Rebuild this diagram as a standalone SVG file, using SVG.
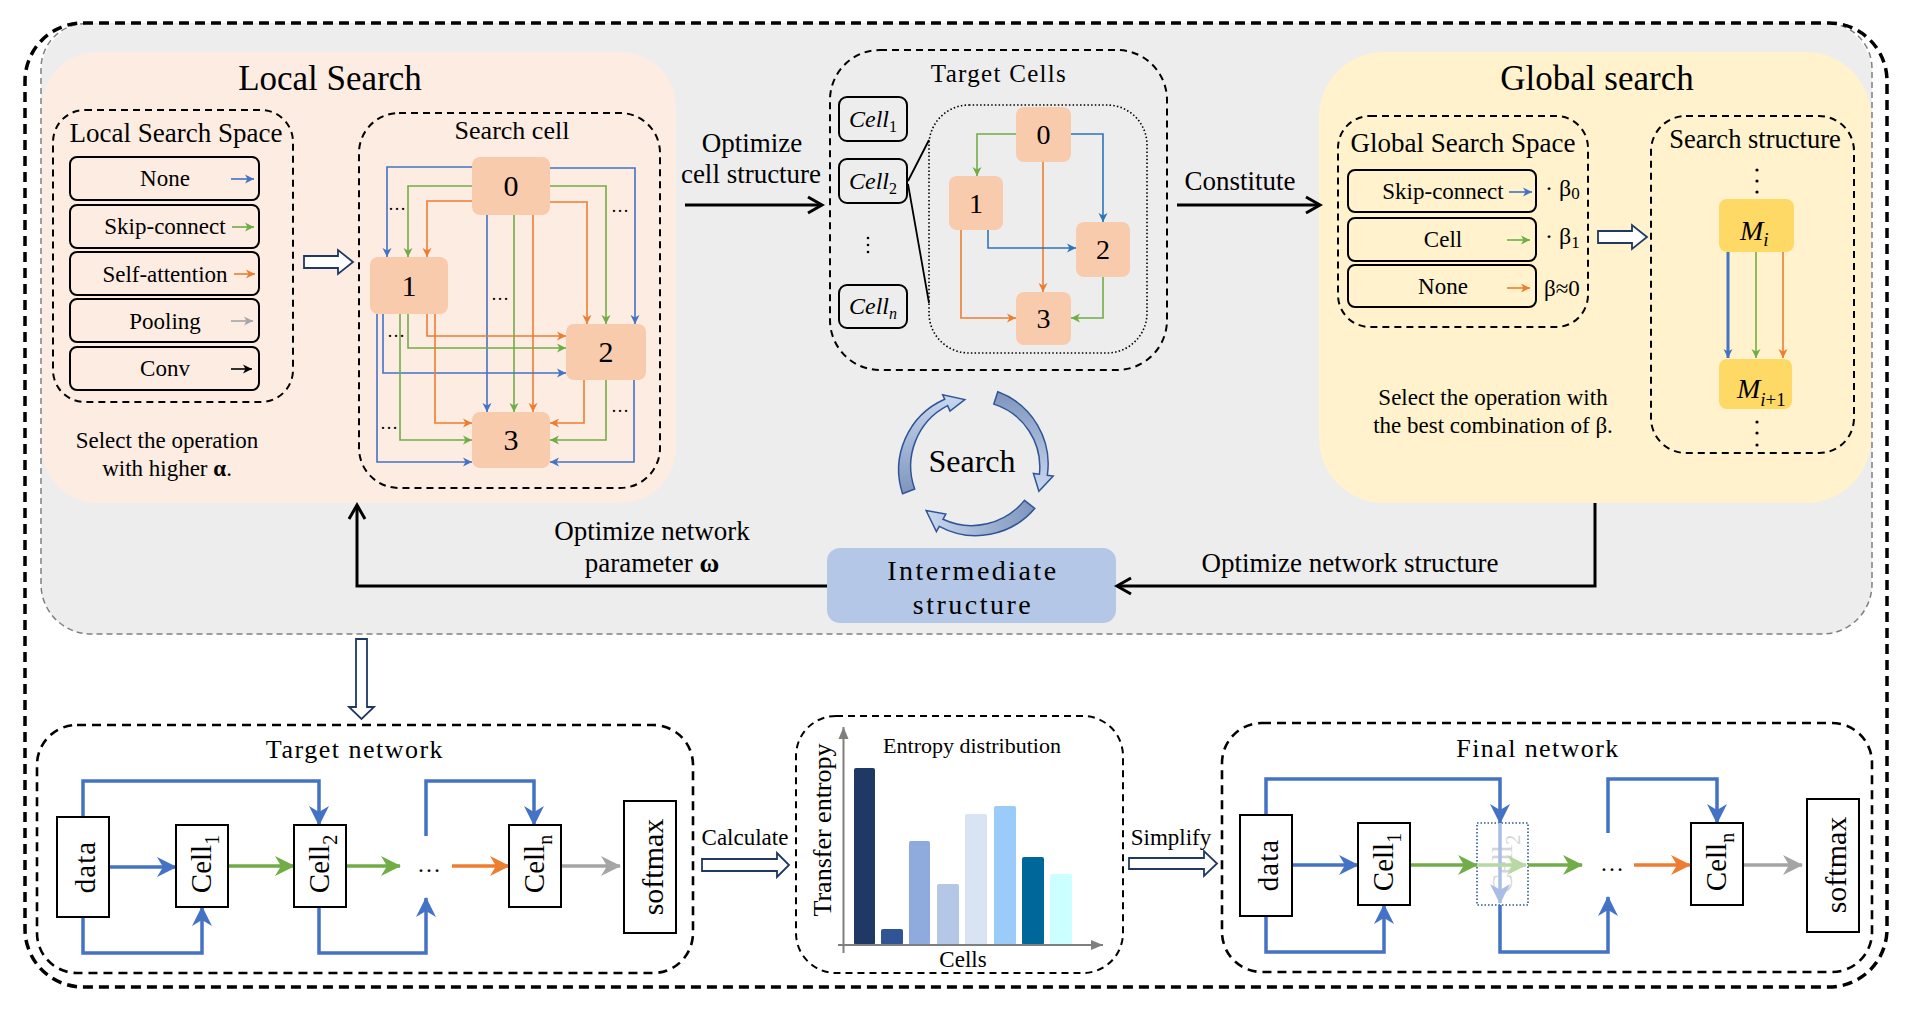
<svg xmlns="http://www.w3.org/2000/svg" width="1905" height="1009" viewBox="0 0 1905 1009">
<defs>
<style>
text{font-family:"Liberation Serif","Times New Roman",serif;fill:#000}
.dash{fill:none;stroke:#000;stroke-width:2;stroke-dasharray:7 5}
.ndash{fill:none;stroke:#000;stroke-width:2.6;stroke-dasharray:9 6}
.opt{fill:none;stroke:#000;stroke-width:2}
.node{fill:#f8cbad}
.ynode{fill:#ffd966}
.e{fill:none;stroke-width:1.6}
.b{stroke:#4472c4}
.g{stroke:#70ad47}
.o{stroke:#ed7d31}
.gr{stroke:#a5a5a5}
.k{stroke:#000}
.tb{stroke:#2e75b6}
.big{fill:none;stroke-width:3.5}
.blk{fill:none;stroke:#000;stroke-width:3}
.hol{fill:#fff;stroke:#1f3864;stroke-width:1.8}
.box{fill:#fff;stroke:#000;stroke-width:2}
.cyc{stroke:#2f5597;stroke-width:1.5}
</style>
<marker id="sb" markerUnits="userSpaceOnUse" markerWidth="10" markerHeight="9" refX="9" refY="4.5" orient="auto" overflow="visible"><path d="M0,0 L9,4.5 L0,9 L2.5,4.5 z" fill="#4472c4"/></marker>
<marker id="sg" markerUnits="userSpaceOnUse" markerWidth="10" markerHeight="9" refX="9" refY="4.5" orient="auto" overflow="visible"><path d="M0,0 L9,4.5 L0,9 L2.5,4.5 z" fill="#70ad47"/></marker>
<marker id="so" markerUnits="userSpaceOnUse" markerWidth="10" markerHeight="9" refX="9" refY="4.5" orient="auto" overflow="visible"><path d="M0,0 L9,4.5 L0,9 L2.5,4.5 z" fill="#ed7d31"/></marker>
<marker id="sgr" markerUnits="userSpaceOnUse" markerWidth="10" markerHeight="9" refX="9" refY="4.5" orient="auto" overflow="visible"><path d="M0,0 L9,4.5 L0,9 L2.5,4.5 z" fill="#a5a5a5"/></marker>
<marker id="sk" markerUnits="userSpaceOnUse" markerWidth="10" markerHeight="9" refX="9" refY="4.5" orient="auto" overflow="visible"><path d="M0,0 L9,4.5 L0,9 L2.5,4.5 z" fill="#000"/></marker>
<marker id="stb" markerUnits="userSpaceOnUse" markerWidth="10" markerHeight="9" refX="9" refY="4.5" orient="auto" overflow="visible"><path d="M0,0 L9,4.5 L0,9 L2.5,4.5 z" fill="#2e75b6"/></marker>
<marker id="lb" markerUnits="userSpaceOnUse" markerWidth="20" markerHeight="20" refX="19" refY="10" orient="auto" overflow="visible"><path d="M0,0 L20,10 L0,20 L6,10 z" fill="#4472c4"/></marker>
<marker id="lg" markerUnits="userSpaceOnUse" markerWidth="20" markerHeight="20" refX="19" refY="10" orient="auto" overflow="visible"><path d="M0,0 L20,10 L0,20 L6,10 z" fill="#70ad47"/></marker>
<marker id="lo" markerUnits="userSpaceOnUse" markerWidth="20" markerHeight="20" refX="19" refY="10" orient="auto" overflow="visible"><path d="M0,0 L20,10 L0,20 L6,10 z" fill="#ed7d31"/></marker>
<marker id="lgr" markerUnits="userSpaceOnUse" markerWidth="20" markerHeight="20" refX="19" refY="10" orient="auto" overflow="visible"><path d="M0,0 L20,10 L0,20 L6,10 z" fill="#a5a5a5"/></marker>
<marker id="lfb" markerUnits="userSpaceOnUse" markerWidth="20" markerHeight="20" refX="19" refY="10" orient="auto" overflow="visible"><path d="M0,0 L20,10 L0,20 L6,10 z" fill="#a9bde6"/></marker>
<marker id="lfg" markerUnits="userSpaceOnUse" markerWidth="20" markerHeight="20" refX="19" refY="10" orient="auto" overflow="visible"><path d="M0,0 L20,10 L0,20 L6,10 z" fill="#b7d9a3"/></marker>
<marker id="ka" markerUnits="userSpaceOnUse" markerWidth="18" markerHeight="20" refX="15" refY="9" orient="auto" overflow="visible"><path d="M1,1 L15,9 L1,17" fill="none" stroke="#000" stroke-width="3"/></marker>
<marker id="ax" markerUnits="userSpaceOnUse" markerWidth="12" markerHeight="10" refX="12" refY="5" orient="auto" overflow="visible"><path d="M0,0 L12,5 L0,10 z" fill="#7f7f7f"/></marker>
<linearGradient id="g1" x1="0" y1="1" x2="0" y2="0"><stop offset="0" stop-color="#7f95bd"/><stop offset="1" stop-color="#c9d8f0"/></linearGradient>
<linearGradient id="g2" x1="0" y1="0" x2="0" y2="1"><stop offset="0" stop-color="#7f95bd"/><stop offset="1" stop-color="#c9d8f0"/></linearGradient>
<linearGradient id="g3" x1="1" y1="0" x2="0" y2="0"><stop offset="0" stop-color="#7f95bd"/><stop offset="1" stop-color="#c9d8f0"/></linearGradient>
</defs>

<g id="background">
<rect x="0" y="0" width="1905" height="1009" fill="#fff"/>
<rect x="41" y="23" width="1831" height="611" rx="50" fill="#ededed"/>
<path d="M86,23.5 A45,45 0 0 0 41,68.5 V584 A50,50 0 0 0 91,634 H1822 A50,50 0 0 0 1872,584 V68.5 A45,45 0 0 0 1827,23.5" fill="none" stroke="#808080" stroke-width="1.5" stroke-dasharray="6 4"/>
<rect x="25" y="23" width="1862" height="964" rx="58" fill="none" stroke="#000" stroke-width="3.5" stroke-dasharray="10 6"/>
</g>

<g id="local-search">
<rect x="42" y="52" width="634" height="451" rx="55" fill="#fdece2"/>
<text x="330" y="90" text-anchor="middle" font-size="35">Local Search</text>
<text x="167" y="448" text-anchor="middle" font-size="23">Select the operation</text>
<text x="167" y="476" text-anchor="middle" font-size="23">with higher <tspan font-weight="bold">α</tspan>.</text>
</g>

<g id="local-search-space">
<rect x="53" y="110" width="240" height="292" rx="32" class="dash"/>
<text x="176" y="142" text-anchor="middle" font-size="27">Local Search Space</text>
<rect x="70" y="157" width="189" height="43" rx="7" class="opt"/>
<text x="165" y="186" text-anchor="middle" font-size="23">None</text>
<rect x="70" y="205" width="189" height="43" rx="7" class="opt"/>
<text x="165" y="234" text-anchor="middle" font-size="23">Skip-connect</text>
<rect x="70" y="252" width="189" height="43" rx="7" class="opt"/>
<text x="165" y="282" text-anchor="middle" font-size="23">Self-attention</text>
<rect x="70" y="299" width="189" height="43" rx="7" class="opt"/>
<text x="165" y="329" text-anchor="middle" font-size="23">Pooling</text>
<rect x="70" y="347" width="189" height="43" rx="7" class="opt"/>
<text x="165" y="376" text-anchor="middle" font-size="23">Conv</text>
<path d="M231,179 H254" class="e b" marker-end="url(#sb)"/>
<path d="M232,227 H254" class="e g" marker-end="url(#sg)"/>
<path d="M234,274 H255" class="e o" marker-end="url(#so)"/>
<path d="M231,321 H253" class="e gr" marker-end="url(#sgr)"/>
<path d="M231,369 H252" class="e k" marker-end="url(#sk)"/>
</g>

<g id="arrow-space-to-cell">
<path d="M304,256 H338 V250 L353,262 L338,274 V268 H304 Z" class="hol"/>
</g>

<g id="search-cell">
<rect x="359" y="113" width="301" height="375" rx="40" class="dash"/>
<text x="512" y="139" text-anchor="middle" font-size="26">Search cell</text>
</g>
<g id="sc-edges">
<path d="M472,167 H387 V257" class="e b" marker-end="url(#sb)"/>
<path d="M472,186 H408 V257" class="e g" marker-end="url(#sg)"/>
<path d="M472,201 H427 V257" class="e o" marker-end="url(#so)"/>
<path d="M550,168 H635 V324" class="e b" marker-end="url(#sb)"/>
<path d="M550,186 H606 V324" class="e g" marker-end="url(#sg)"/>
<path d="M550,202 H587 V324" class="e o" marker-end="url(#so)"/>
<path d="M487,215 V412" class="e b" marker-end="url(#sb)"/>
<path d="M514,215 V412" class="e g" marker-end="url(#sg)"/>
<path d="M533,215 V412" class="e o" marker-end="url(#so)"/>
<path d="M427,314 V336 H566" class="e o" marker-end="url(#so)"/>
<path d="M408,314 V348 H566" class="e g" marker-end="url(#sg)"/>
<path d="M383,314 V373 H566" class="e b" marker-end="url(#sb)"/>
<path d="M377,314 V462 H472" class="e b" marker-end="url(#sb)"/>
<path d="M400,314 V440 H472" class="e g" marker-end="url(#sg)"/>
<path d="M435,314 V423 H472" class="e o" marker-end="url(#so)"/>
<path d="M584,380 V423 H550" class="e o" marker-end="url(#so)"/>
<path d="M606,380 V440 H550" class="e g" marker-end="url(#sg)"/>
<path d="M634,380 V462 H550" class="e b" marker-end="url(#sb)"/>
<text x="397" y="210" text-anchor="middle" font-size="18">…</text>
<text x="620" y="212" text-anchor="middle" font-size="18">…</text>
<text x="500" y="300" text-anchor="middle" font-size="18">…</text>
<text x="396" y="337" text-anchor="middle" font-size="18">…</text>
<text x="389" y="429" text-anchor="middle" font-size="18">…</text>
<text x="620" y="412" text-anchor="middle" font-size="18">…</text>
</g>
<g id="sc-node-0"><rect x="472" y="157" width="78" height="58" rx="8" class="node"/><text x="511" y="196" text-anchor="middle" font-size="30">0</text></g>
<g id="sc-node-1"><rect x="370" y="257" width="78" height="57" rx="8" class="node"/><text x="409" y="296" text-anchor="middle" font-size="30">1</text></g>
<g id="sc-node-2"><rect x="566" y="324" width="80" height="56" rx="8" class="node"/><text x="606" y="362" text-anchor="middle" font-size="30">2</text></g>
<g id="sc-node-3"><rect x="472" y="412" width="78" height="56" rx="8" class="node"/><text x="511" y="450" text-anchor="middle" font-size="30">3</text></g>

<g id="label-optimize-cell">
<text x="752" y="152" text-anchor="middle" font-size="27">Optimize</text>
<text x="751" y="183" text-anchor="middle" font-size="27">cell structure</text>
</g>

<g id="target-cells">
<rect x="830" y="50" width="337" height="320" rx="50" class="dash"/>
<text x="999" y="82" text-anchor="middle" font-size="25" letter-spacing="1.3">Target Cells</text>
<rect x="839" y="97" width="68" height="44" rx="8" class="opt"/>
<text x="873" y="127" text-anchor="middle" font-size="24" font-style="italic">Cell<tspan font-style="normal" font-size="16" dy="5">1</tspan></text>
<rect x="839" y="159" width="68" height="44" rx="8" class="opt"/>
<text x="873" y="189" text-anchor="middle" font-size="24" font-style="italic">Cell<tspan font-style="normal" font-size="16" dy="5">2</tspan></text>
<rect x="839" y="285" width="68" height="43" rx="8" class="opt"/>
<text x="873" y="314" text-anchor="middle" font-size="24" font-style="italic">Cell<tspan font-size="16" dy="5">n</tspan></text>
<circle cx="868" cy="238" r="1.3"/><circle cx="868" cy="245" r="1.3"/><circle cx="868" cy="252" r="1.3"/>
<path d="M908,181 L929,140 M908,184 L929,303" fill="none" stroke="#000" stroke-width="1.8"/>
<rect x="929" y="105" width="218" height="248" rx="40" fill="none" stroke="#000" stroke-width="1.6" stroke-dasharray="1.5 2.2"/>
</g>
<g id="tc-edges">
<path d="M1016,134 H977 V176" class="e g" marker-end="url(#sg)"/>
<path d="M1071,134 H1103 V222" class="e tb" marker-end="url(#stb)"/>
<path d="M1043,162 V292" class="e o" marker-end="url(#so)"/>
<path d="M988,230 V248 H1076" class="e tb" marker-end="url(#stb)"/>
<path d="M961,230 V318 H1016" class="e o" marker-end="url(#so)"/>
<path d="M1103,277 V318 H1071" class="e g" marker-end="url(#sg)"/>
</g>
<g id="tc-node-0"><rect x="1016" y="107" width="55" height="55" rx="8" class="node"/><text x="1043.5" y="144" text-anchor="middle" font-size="28">0</text></g>
<g id="tc-node-1"><rect x="949" y="176" width="54" height="54" rx="8" class="node"/><text x="976" y="213" text-anchor="middle" font-size="28">1</text></g>
<g id="tc-node-2"><rect x="1076" y="222" width="54" height="55" rx="8" class="node"/><text x="1103" y="259" text-anchor="middle" font-size="28">2</text></g>
<g id="tc-node-3"><rect x="1016" y="292" width="55" height="53" rx="8" class="node"/><text x="1043.5" y="328" text-anchor="middle" font-size="28">3</text></g>

<g id="label-constitute">
<text x="1240" y="190" text-anchor="middle" font-size="27">Constitute</text>
</g>

<g id="global-search">
<rect x="1319" y="52" width="552" height="451" rx="65" fill="#fff2cc"/>
<text x="1597" y="90" text-anchor="middle" font-size="35">Global search</text>
<text x="1493" y="405" text-anchor="middle" font-size="23">Select the operation with</text>
<text x="1493" y="433" text-anchor="middle" font-size="23">the best combination of β.</text>
</g>

<g id="global-search-space">
<rect x="1338" y="116" width="250" height="211" rx="32" class="dash"/>
<text x="1463" y="152" text-anchor="middle" font-size="27">Global Search Space</text>
<rect x="1348" y="170" width="188" height="42" rx="7" class="opt"/>
<text x="1443" y="199" text-anchor="middle" font-size="23">Skip-connect</text>
<rect x="1348" y="218" width="188" height="43" rx="7" class="opt"/>
<text x="1443" y="247" text-anchor="middle" font-size="23">Cell</text>
<rect x="1348" y="265" width="188" height="42" rx="7" class="opt"/>
<text x="1443" y="294" text-anchor="middle" font-size="23">None</text>
<path d="M1509,192 H1532" class="e b" marker-end="url(#sb)"/>
<path d="M1507,240 H1530" class="e g" marker-end="url(#sg)"/>
<path d="M1507,288 H1530" class="e o" marker-end="url(#so)"/>
<text x="1545" y="196" font-size="24">· β<tspan font-size="17" dy="3">0</tspan></text>
<text x="1545" y="244" font-size="24">· β<tspan font-size="17" dy="4">1</tspan></text>
<text x="1544" y="296" font-size="23">β≈0</text>
</g>

<g id="arrow-space-to-structure">
<path d="M1598,231 H1632 V225 L1647,237 L1632,249 V243 H1598 Z" class="hol"/>
</g>

<g id="search-structure">
<rect x="1651" y="116" width="203" height="337" rx="35" class="dash"/>
<text x="1755" y="148" text-anchor="middle" font-size="26.5">Search structure</text>
<circle cx="1757" cy="170" r="1.6"/><circle cx="1757" cy="181" r="1.6"/><circle cx="1757" cy="192" r="1.6"/>
<circle cx="1757" cy="422" r="1.6"/><circle cx="1757" cy="433" r="1.6"/><circle cx="1757" cy="445" r="1.6"/>
</g>
<g id="ss-edges">
<path d="M1728,252 V358" fill="none" stroke="#4472c4" stroke-width="3" marker-end="url(#sb)"/>
<path d="M1756,252 V358" class="e g" marker-end="url(#sg)"/>
<path d="M1783,252 V358" class="e o" marker-end="url(#so)"/>
</g>
<g id="node-mi"><rect x="1719" y="199" width="75" height="53" rx="8" class="ynode"/><text x="1740" y="240" font-size="28" font-style="italic">M<tspan font-size="19" dy="6">i</tspan></text></g>
<g id="node-mi1"><rect x="1719" y="359" width="73" height="50" rx="8" class="ynode"/><text x="1737" y="398" font-size="28" font-style="italic">M<tspan font-size="19" dy="8">i</tspan><tspan font-size="19" font-style="normal">+1</tspan></text></g>

<g id="search-cycle">
<path d="M902.6,493.8 A77,77 0 0 1 944.7,399.2 L942.7,394.7 L964.8,399.6 L950,411.1 L947.6,405.6 A68,68 0 0 0 914.7,489 Z" fill="url(#g1)" class="cyc"/>
<path d="M997.8,391.8 A77,77 0 0 1 1047.3,475.3 L1053.2,476.1 L1038.9,491.2 L1033.4,473.4 L1039.4,474.2 A66,66 0 0 0 993.8,404.1 Z" fill="url(#g2)" class="cyc"/>
<path d="M1034.7,508.4 A77,77 0 0 1 939.3,526.3 L936.4,531.6 L926.1,510.6 L945.8,514 L943,519.3 A68,68 0 0 0 1024.4,500.4 Z" fill="url(#g3)" class="cyc"/>
<text x="972" y="472" text-anchor="middle" font-size="32">Search</text>
</g>

<g id="intermediate">
<rect x="827" y="548" width="289" height="75" rx="13" fill="#b4c7e7"/>
<text x="973" y="580" text-anchor="middle" font-size="28" letter-spacing="2.5">Intermediate</text>
<text x="973" y="614" text-anchor="middle" font-size="28" letter-spacing="2.5">structure</text>
</g>

<g id="loop-labels">
<text x="652" y="540" text-anchor="middle" font-size="27">Optimize network</text>
<text x="652" y="572" text-anchor="middle" font-size="27">parameter <tspan font-weight="bold">ω</tspan></text>
<text x="1350" y="572" text-anchor="middle" font-size="27">Optimize network structure</text>
</g>

<g id="connectors">
<path d="M685,205 H822" class="blk" marker-end="url(#ka)"/>
<path d="M1177,205 H1320" class="blk" marker-end="url(#ka)"/>
<path d="M827,586 H357 V505" class="blk" marker-end="url(#ka)"/>
<path d="M1595,503 V586 H1117" class="blk" marker-end="url(#ka)"/>
<path d="M356,639 H367 V707 H374 L361.5,719 L349,707 H356 Z" class="hol"/>
<path d="M702,859 H777 V853 L789,865 L777,877 V871 H702 Z" class="hol"/>
<path d="M1129,858 H1204 V851 L1217,863.5 L1204,876 V869 H1129 Z" class="hol"/>
</g>

<g id="target-network">
<rect x="37" y="725" width="656" height="248" rx="40" class="ndash"/>
<text x="355" y="758" text-anchor="middle" font-size="26" letter-spacing="1.5">Target network</text>
</g>
<g id="tn-edges">
<path d="M109,867 H176" class="big b" marker-end="url(#lb)"/>
<path d="M83,817 V781 H319 V825" class="big b" marker-end="url(#lb)"/>
<path d="M83,917 V953 H202 V907" class="big b" marker-end="url(#lb)"/>
<path d="M319,907 V953 H426 V898" class="big b" marker-end="url(#lb)"/>
<path d="M426,836 V781 H534 V825" class="big b" marker-end="url(#lb)"/>
<path d="M228,866 H294" class="big g" marker-end="url(#lg)"/>
<path d="M346,866 H400" class="big g" marker-end="url(#lg)"/>
<path d="M452,866 H509" class="big o" marker-end="url(#lo)"/>
<path d="M561,866 H620" class="big gr" marker-end="url(#lgr)"/>
<text x="429" y="872" text-anchor="middle" font-size="24">…</text>
</g>
<g id="tn-data"><rect x="57" y="817" width="52" height="100" class="box"/><text transform="translate(95,867) rotate(-90)" text-anchor="middle" font-size="29" letter-spacing="1">data</text></g>
<g id="tn-cell1"><rect x="176" y="825" width="52" height="82" class="box"/><text transform="translate(211,864) rotate(-90)" text-anchor="middle" font-size="29">Cell<tspan font-size="20" dy="8">1</tspan></text></g>
<g id="tn-cell2"><rect x="294" y="825" width="52" height="82" class="box"/><text transform="translate(329,864) rotate(-90)" text-anchor="middle" font-size="29">Cell<tspan font-size="20" dy="8">2</tspan></text></g>
<g id="tn-celln"><rect x="509" y="825" width="52" height="82" class="box"/><text transform="translate(544,864) rotate(-90)" text-anchor="middle" font-size="29">Cell<tspan font-size="20" dy="8">n</tspan></text></g>
<g id="tn-softmax"><rect x="624" y="801" width="52" height="132" class="box"/><text transform="translate(663,867) rotate(-90)" text-anchor="middle" font-size="30">softmax</text></g>

<g id="label-calculate"><text x="745" y="845" text-anchor="middle" font-size="23">Calculate</text></g>

<g id="entropy-distribution">
<rect x="796" y="716" width="327" height="257" rx="40" class="dash"/>
<rect x="854" y="768" width="21" height="177" rx="2" fill="#203864"/>
<rect x="881" y="929" width="22" height="16" rx="2" fill="#2f5597"/>
<rect x="909" y="841" width="21" height="104" rx="2" fill="#8faadc"/>
<rect x="937" y="884" width="22" height="61" rx="2" fill="#b4c7e7"/>
<rect x="965" y="814" width="22" height="131" rx="2" fill="#dae3f3"/>
<rect x="994" y="806" width="22" height="139" rx="2" fill="#9bcbf8"/>
<rect x="1022" y="857" width="22" height="88" rx="2" fill="#00679b"/>
<rect x="1050" y="874" width="22" height="71" rx="2" fill="#ccffff"/>
<path d="M843.5,953 V727" fill="none" stroke="#7f7f7f" stroke-width="2" marker-end="url(#ax)"/>
<path d="M838,945 H1103" fill="none" stroke="#7f7f7f" stroke-width="2" marker-end="url(#ax)"/>
<text x="972" y="753" text-anchor="middle" font-size="22">Entropy distribution</text>
<text x="963" y="967" text-anchor="middle" font-size="23">Cells</text>
<text transform="translate(831,830) rotate(-90)" text-anchor="middle" font-size="26">Transfer entropy</text>
</g>

<g id="label-simplify"><text x="1171" y="845" text-anchor="middle" font-size="23">Simplify</text></g>

<g id="final-network">
<rect x="1222" y="723" width="650" height="249" rx="40" class="ndash"/>
<text x="1538" y="757" text-anchor="middle" font-size="26" letter-spacing="1.4">Final network</text>
</g>
<g id="fn-cell2-removed">
<rect x="1477" y="823" width="51" height="82" fill="none" stroke="#2f5597" stroke-width="1.6" stroke-dasharray="1.5 2"/>
<text transform="translate(1512,864) rotate(-90)" text-anchor="middle" font-size="29" style="fill:#d6d6d6">Cell<tspan font-size="20" dy="8">2</tspan></text>
</g>
<g id="fn-edges">
<path d="M1292,865 H1358" class="big b" marker-end="url(#lb)"/>
<path d="M1266,815 V779 H1500 V823" class="big b" marker-end="url(#lb)"/>
<path d="M1500,823 V903" fill="none" stroke="#a9bde6" stroke-width="3.5" marker-end="url(#lfb)"/>
<path d="M1500,905 V952 H1608 V897" class="big b" marker-end="url(#lb)"/>
<path d="M1266,916 V952 H1384 V905" class="big b" marker-end="url(#lb)"/>
<path d="M1608,833 V779 H1717 V823" class="big b" marker-end="url(#lb)"/>
<path d="M1410,865 H1477" class="big g" marker-end="url(#lg)"/>
<path d="M1477,865 H1526" fill="none" stroke="#b7d9a3" stroke-width="3.5" marker-end="url(#lfg)"/>
<path d="M1528,865 H1582" class="big g" marker-end="url(#lg)"/>
<path d="M1634,865 H1690" class="big o" marker-end="url(#lo)"/>
<path d="M1744,865 H1802" class="big gr" marker-end="url(#lgr)"/>
<text x="1612" y="871" text-anchor="middle" font-size="24">…</text>
</g>
<g id="fn-data"><rect x="1240" y="815" width="52" height="101" class="box"/><text transform="translate(1278,865) rotate(-90)" text-anchor="middle" font-size="29" letter-spacing="1">data</text></g>
<g id="fn-cell1"><rect x="1358" y="823" width="52" height="82" class="box"/><text transform="translate(1393,862) rotate(-90)" text-anchor="middle" font-size="29">Cell<tspan font-size="20" dy="8">1</tspan></text></g>
<g id="fn-celln"><rect x="1691" y="823" width="52" height="82" class="box"/><text transform="translate(1726,862) rotate(-90)" text-anchor="middle" font-size="29">Cell<tspan font-size="20" dy="8">n</tspan></text></g>
<g id="fn-softmax"><rect x="1807" y="799" width="52" height="133" class="box"/><text transform="translate(1846,865) rotate(-90)" text-anchor="middle" font-size="30">softmax</text></g>
</svg>
